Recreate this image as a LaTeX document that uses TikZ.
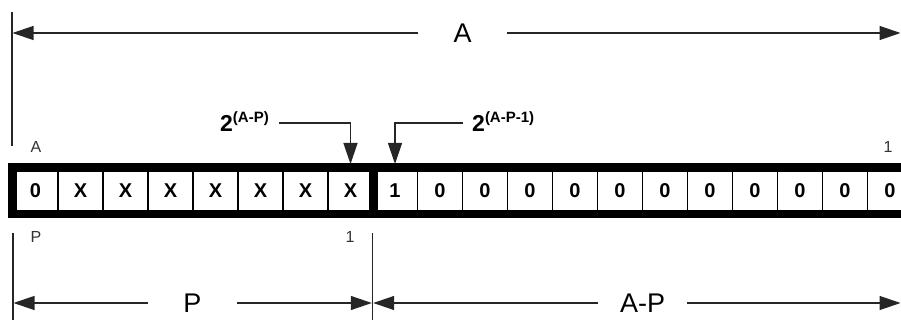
\documentclass[tikz,border=0pt]{standalone}
\usepackage{fontspec}
\setmainfont{Liberation Sans}
\usetikzlibrary{arrows.meta}
\begin{document}
\begin{tikzpicture}[x=1pt,y=-1pt,
  dim/.style={draw=black!85, line width=1.3pt},
  tipped/.style={-{Triangle[length=21pt,width=14pt]}},
  cell/.style={draw=black, line width=1.2pt, minimum width=45pt, minimum height=45.5pt, inner sep=0pt, font=\fontsize{20}{20}\selectfont\bfseries},
  small/.style={font=\fontsize{16}{16}\selectfont, text=black!80, inner sep=0pt},
  big/.style={font=\fontsize{27}{27}\selectfont, inner sep=0pt, minimum width=89pt},
  pow/.style={font=\fontsize{23}{23}\selectfont\bfseries, inner sep=0pt},
]
\useasboundingbox (0,0) rectangle (901,320);
\clip (0,0) rectangle (901,320);

% register cells
\node[cell] (L0) at (35.5,190.75) {0};
\foreach \i in {1,...,7} {
  \node[cell] (L\i) at ({35.5+45*\i},190.75) {X};
}
\node[cell] (R0) at (395,190.75) {1};
\foreach \j in {1,...,11} {
  \node[cell] (R\j) at ({395+45*\j},190.75) {0};
}
\draw[line width=8.5pt] (L0.north west) rectangle (R11.south east);
\draw[line width=9pt] (L7.north east) -- (L7.south east);

% small labels
\node[small] (sA) at (36,147) {A};
\node[small] (s1t) at (888,147) {1};
\node[small] (sP) at (36,237) {P};
\node[small] (s1b) at (350,237) {1};

% top dimension
\coordinate (vtTop) at (12,12);
\coordinate (vtBot) at (12,146);
\draw[dim] (vtTop) -- (vtBot);
\node[big] (Alab) at (462.5,33) {A};
\coordinate (TL) at (12.5,33);
\coordinate (TR) at (900.5,33);
\draw[dim,tipped] (Alab.west) -- (TL);
\draw[dim,tipped] (Alab.east) -- (TR);

% power labels
\node[pow, anchor=base west] (e1) at (220,132) {2\raisebox{9pt}{\fontsize{15}{15}\selectfont\bfseries (A-P)}};
\node[pow, anchor=base west] (e2) at (472,132) {2\raisebox{9pt}{\fontsize{15}{15}\selectfont\bfseries (A-P-1)}};
\coordinate (t1) at (L7.north |- 0,164);
\coordinate (t2) at (R0.north |- 0,164);
\draw[dim,tipped] ([xshift=10pt,yshift=9pt]e1.base east) -| (t1);
\draw[dim,tipped] ([xshift=-9pt,yshift=9pt]e2.base west) -| (t2);

% bottom dimension
\coordinate (vb1t) at (13,233);
\coordinate (vb1b) at (13,320);
\coordinate (vb2t) at (372.5,233);
\coordinate (vb2b) at (372.5,320);
\draw[dim] (vb1t) -- (vb1b);
\draw[dim] (vb2t) -- (vb2b);
\node[big] (Plab) at (192.5,303) {P};
\node[big] (APlab) at (642.5,303) {A-P};
\coordinate (BL) at (13.5,303);
\coordinate (BM1) at (371.8,303);
\coordinate (BM2) at (373.2,303);
\coordinate (BR) at (900.5,303);
\draw[dim,tipped] (Plab.west) -- (BL);
\draw[dim,tipped] (Plab.east) -- (BM1);
\draw[dim,tipped] (APlab.west) -- (BM2);
\draw[dim,tipped] (APlab.east) -- (BR);
\end{tikzpicture}
\end{document}
